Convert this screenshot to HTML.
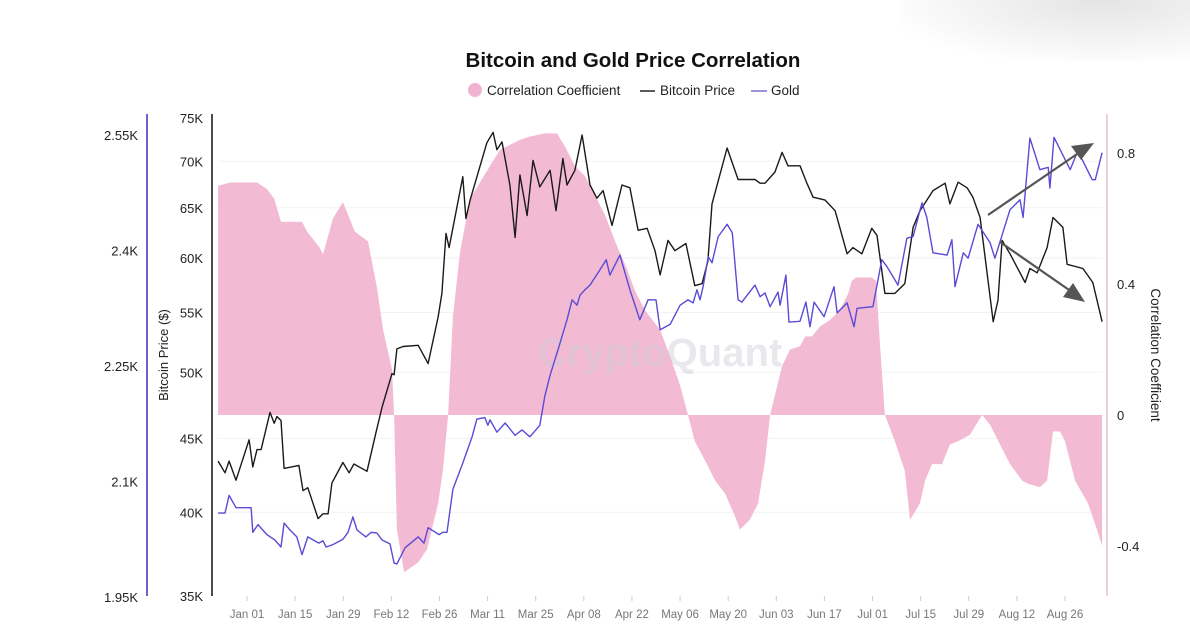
<!DOCTYPE html>
<html><head><meta charset="utf-8"><style>
html,body{margin:0;padding:0;background:#fff;}
body{width:1190px;height:630px;overflow:hidden;position:relative;font-family:"Liberation Sans",sans-serif;}
svg text{font-family:"Liberation Sans",sans-serif;}
</style></head><body>
<div style="position:absolute;left:900px;top:0;width:290px;height:60px;background:radial-gradient(ellipse at 70% 0%,#e4e4e4 0%,#f3f3f3 45%,rgba(255,255,255,0) 80%);"></div>
<svg id="chart" width="1190" height="630" style="position:absolute;left:0;top:0">
<text x="633" y="67" text-anchor="middle" font-size="20.5" font-weight="bold" fill="#111">Bitcoin and Gold Price Correlation</text>
<g>
<circle cx="475" cy="90" r="7" fill="#f2b3d1"/>
<text x="487" y="95" font-size="13.5" fill="#222">Correlation Coefficient</text>
<line x1="640" y1="91" x2="655" y2="91" stroke="#222" stroke-width="1.5"/>
<text x="660" y="95" font-size="13.5" fill="#222">Bitcoin Price</text>
<line x1="751" y1="91" x2="767" y2="91" stroke="#7b6fd0" stroke-width="1.5"/>
<text x="771" y="95" font-size="13.5" fill="#222">Gold</text>
</g>
<g id="grid"></g>
<g id="corr"></g>
<text x="660" y="366" text-anchor="middle" font-size="40" font-weight="bold" fill="rgba(205,205,215,0.45)">CryptoQuant</text>
<g id="btc"></g>
<g id="gold"></g>
<g id="axes"></g>
<g>
<line x1="988" y1="215" x2="1080" y2="152" stroke="#555" stroke-width="2.2"/>
<polygon points="1094,143 1071,146 1081,160" fill="#555"/>
<line x1="1000" y1="242" x2="1072" y2="292" stroke="#555" stroke-width="2.2"/>
<polygon points="1085,302 1063,297 1073,283" fill="#555"/>
</g>
<text transform="translate(168,355) rotate(-90)" text-anchor="middle" font-size="13" fill="#222">Bitcoin Price ($)</text>
<text transform="translate(1151,355) rotate(90)" text-anchor="middle" font-size="13.5" fill="#222">Correlation Coefficient</text>
</svg>
<script>
const btcDays=[-8.4,-6.4,-5.2,-3.2,0.6,1.7,2.9,4.1,6.7,7.9,8.7,9.9,10.8,15.1,16.3,17.7,20.7,22.1,23.6,24.7,27.9,29.7,31.1,34.9,37.5,39.3,42.2,42.8,43.6,45.4,49.8,52.7,55.6,56.7,57.9,58.8,62.8,63.7,64.9,69.8,71.6,72.7,74.2,76.5,78.0,79.4,81.5,83.2,85.2,88.2,89.9,91.9,93.1,95.4,97.5,99.8,101.8,103.6,106.2,109.1,111.4,113.8,116.4,118.7,120.2,122.5,124.5,127.7,130.3,132.4,134.1,135.3,139.7,142.9,147.8,149.3,150.7,153.6,155.7,157.4,160.9,162.9,164.7,168.2,171.1,174.6,176.3,178.9,181.8,183.3,185.6,188.5,191.4,193.8,195.8,199.6,203.1,204.5,206.9,209.5,211.2,213.3,217.1,218.5,219.7,222.0,226.4,227.8,229.9,232.8,234.5,237.4,238.6,243.2,246.1,248.8];
const btcPrice=[43.4,42.6,43.4,42.1,44.9,43.0,44.2,44.2,46.9,46.1,46.6,46.3,42.9,43.1,41.4,41.6,39.6,39.9,39.9,41.9,43.3,42.6,43.2,42.7,45.4,47.3,49.9,49.8,51.9,52.1,52.2,50.7,54.6,56.7,62.4,61.0,68.3,63.9,65.8,72.1,73.3,71.3,72.2,67.4,62.0,68.5,64.2,70.1,67.2,69.0,64.7,70.3,67.4,69.0,73.0,67.4,66.0,66.8,63.2,67.4,67.1,62.7,62.9,60.7,58.4,61.7,60.7,61.4,57.4,57.6,59.7,65.4,71.5,68.0,68.0,67.6,67.6,68.8,71.0,69.5,69.5,67.6,66.1,65.8,64.7,60.4,61.0,60.4,62.9,62.2,56.7,56.7,57.6,63.0,64.7,66.8,67.6,65.4,67.7,67.1,66.1,64.0,54.2,56.1,61.7,60.4,57.7,59.0,58.6,61.0,64.0,63.0,59.4,59.0,57.7,54.2];
const goldDays=[-8.4,-6.4,-5.2,-3.2,1.2,1.7,3.2,5.8,8.1,9.9,10.8,12.5,14.5,16.0,17.7,20.9,22.1,23.0,25.0,27.9,29.4,30.8,32.0,34.6,36.1,37.8,39.3,41.6,42.8,43.6,46.0,49.8,51.5,52.7,55.9,57.0,58.2,59.9,62.8,65.5,66.9,69.2,70.1,70.7,72.7,75.1,78.0,80.0,82.3,85.2,86.7,88.2,90.5,93.1,94.6,96.0,96.9,98.3,99.8,102.7,104.5,105.6,108.5,111.4,114.3,116.7,119.0,120.2,123.1,126.0,128.3,129.8,130.9,131.8,132.7,134.2,135.3,137.1,139.7,141.2,142.9,144.0,147.8,149.3,150.7,152.2,154.5,155.1,156.8,157.7,160.9,162.6,163.8,165.0,167.9,170.8,171.7,174.6,176.6,177.5,182.1,184.7,186.2,189.4,192.0,193.8,196.4,197.8,199.6,203.7,205.1,206.0,208.4,209.8,212.7,216.2,217.6,219.7,222.0,224.9,225.8,227.8,230.7,233.1,233.6,234.8,239.5,241.5,243.0,245.9,246.8,248.8];
const goldPrice=[2059,2059,2082,2066,2066,2034,2044,2031,2024,2015,2046,2037,2028,2005,2028,2020,2023,2015,2018,2025,2034,2054,2037,2028,2034,2033,2024,2019,1994,1993,2014,2028,2020,2040,2031,2034,2034,2090,2124,2158,2181,2183,2173,2180,2164,2176,2160,2167,2158,2173,2212,2238,2271,2310,2336,2329,2342,2349,2355,2375,2388,2368,2394,2349,2310,2336,2336,2297,2304,2329,2336,2332,2349,2336,2353,2392,2384,2418,2434,2423,2336,2333,2355,2340,2345,2327,2346,2329,2368,2307,2308,2333,2301,2333,2314,2353,2319,2332,2301,2325,2327,2388,2379,2355,2416,2418,2462,2443,2397,2394,2414,2353,2397,2390,2434,2410,2390,2420,2453,2466,2443,2546,2505,2508,2481,2547,2505,2527,2518,2492,2492,2527];
const corrDays=[-8.4,-4.9,2.9,5.8,7.9,9.9,16.0,17.5,21.2,22.1,25.0,27.9,31.4,35.2,37.8,39.6,42.2,42.8,43.6,45.7,49.8,52.4,55.6,57.0,58.5,59.9,62.0,64.9,70.1,73.6,79.4,82.3,86.7,90.2,92.5,95.4,98.3,101.3,104.2,107.1,110.0,112.9,115.8,120.2,123.1,126.0,128.3,130.3,133.3,136.2,139.1,142.0,143.4,146.3,148.7,150.7,152.2,153.6,155.7,158.0,160.9,162.4,164.4,166.7,169.6,172.5,174.9,176.0,177.2,181.8,183.0,184.2,185.6,188.5,191.4,192.9,195.8,197.3,199.3,202.2,204.5,206.9,210.4,212.7,213.9,216.2,219.1,222.0,225.5,227.2,230.7,232.8,234.5,236.5,238.0,240.9,244.7,247.0,248.8];
const corrValue=[0.70,0.71,0.71,0.69,0.66,0.59,0.59,0.56,0.51,0.49,0.60,0.65,0.56,0.53,0.39,0.26,0.14,0.00,-0.35,-0.48,-0.45,-0.41,-0.27,-0.17,0.00,0.30,0.50,0.66,0.75,0.81,0.84,0.85,0.86,0.86,0.82,0.76,0.73,0.67,0.61,0.53,0.46,0.38,0.32,0.26,0.18,0.09,0.00,-0.08,-0.14,-0.20,-0.24,-0.31,-0.35,-0.32,-0.27,-0.14,0.00,0.06,0.15,0.20,0.21,0.24,0.24,0.27,0.29,0.32,0.37,0.41,0.42,0.42,0.41,0.21,0.00,-0.08,-0.17,-0.32,-0.27,-0.20,-0.15,-0.15,-0.09,-0.08,-0.06,-0.02,0.00,-0.03,-0.09,-0.15,-0.20,-0.21,-0.22,-0.20,-0.05,-0.05,-0.08,-0.20,-0.27,-0.34,-0.40];
const btcTicks=[35,40,45,50,55,60,65,70,75];
const goldTicks=[1950,2100,2250,2400,2550];
const corrTicks=[-0.4,0,0.4,0.8];
const dateTicks=["Jan 01","Jan 15","Jan 29","Feb 12","Feb 26","Mar 11","Mar 25","Apr 08","Apr 22","May 06","May 20","Jun 03","Jun 17","Jul 01","Jul 15","Jul 29","Aug 12","Aug 26"];

const NS="http://www.w3.org/2000/svg";
const xS=d=>247+d*3.437;
const yB=v=>118+Math.log10(75/v)/Math.log10(75/35)*478;
const yG=v=>135+(2550-v)/150*115.5;
const yC=v=>415-v*327.5;
function mk(tag,attrs,parent){const e=document.createElementNS(NS,tag);for(const k in attrs)e.setAttribute(k,attrs[k]);parent.appendChild(e);return e;}
const grid=document.getElementById('grid'),axes=document.getElementById('axes');

btcTicks.forEach(t=>{
  const y=yB(t);
  if(t!==35&&t!==75){const g=mk('line',{x1:218,x2:1103,y1:y,y2:y,stroke:'#f2f2f2','stroke-width':1},grid);
  
  }
  const l=mk('text',{x:203,y:y+5,'text-anchor':'end','font-size':13,fill:'#222'},axes);l.textContent=t+'K';
  
  
});
goldTicks.forEach(t=>{
  const y=yG(t);
  const l=mk('text',{x:138,y:y+5,'text-anchor':'end','font-size':13,fill:'#222'},axes);l.textContent=(t/1000)+'K';
  
  
});
corrTicks.forEach(t=>{
  const y=yC(t);
  const l=mk('text',{x:1117,y:y+5,'text-anchor':'start','font-size':13,fill:'#222'},axes);l.textContent=String(t);
  
  
});
dateTicks.forEach((t,i)=>{
  const x=xS(i*14);
  const tk=mk('line',{x1:x,x2:x,y1:596,y2:601,stroke:'#ccc'},axes);
  
  
  const l=mk('text',{x:x,y:618,'text-anchor':'middle','font-size':11.5,fill:'#777'},axes);l.textContent=t;
  
  
});
let a=mk('line',{x1:147,x2:147,y1:114,y2:596,stroke:'#3a2fc0','stroke-width':1.5},axes);


a=mk('line',{x1:212,x2:212,y1:114,y2:596,stroke:'#111','stroke-width':1.5},axes);


a=mk('line',{x1:1107,x2:1107,y1:114,y2:596,stroke:'#d9a0b8','stroke-width':1},axes);



let d='M'+xS(corrDays[0])+','+yC(0);
corrDays.forEach((dd,i)=>{d+=' L'+xS(dd).toFixed(1)+','+yC(corrValue[i]).toFixed(1);});
d+=' L'+xS(corrDays[corrDays.length-1])+','+yC(0)+' Z';
const area=mk('path',{d:d,fill:'#f3bad4',stroke:'none'},document.getElementById('corr'));



const bp=btcDays.map((dd,i)=>xS(dd).toFixed(1)+','+yB(btcPrice[i]).toFixed(1)).join(' ');
const bl=mk('polyline',{points:bp,fill:'none',stroke:'#1a1a1a','stroke-width':1.4,'stroke-linejoin':'round'},document.getElementById('btc'));



const gp=goldDays.map((dd,i)=>xS(dd).toFixed(1)+','+yG(goldPrice[i]).toFixed(1)).join(' ');
const gl=mk('polyline',{points:gp,fill:'none',stroke:'#5a4bd6','stroke-width':1.4,'stroke-linejoin':'round'},document.getElementById('gold'));


</script>
</body></html>
